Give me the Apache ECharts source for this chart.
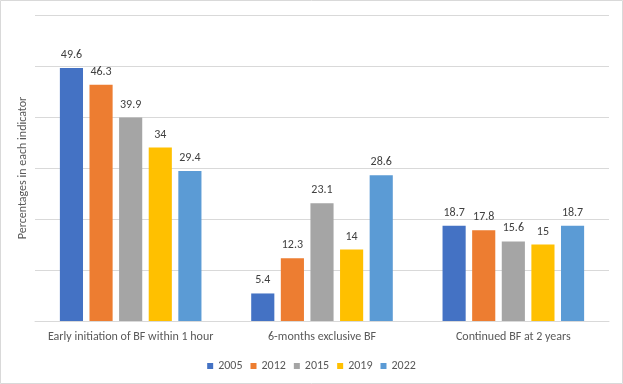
<!DOCTYPE html>
<html>
<head>
<meta charset="utf-8">
<script src="https://cdn.jsdelivr.net/npm/echarts@6/dist/echarts.min.js"></script>
<style>
html,body{margin:0;padding:0;background:#fff;}
#c{width:623px;height:384px;}
</style>
</head>
<body>
<div id="c"></div>
<script>
var categories = ['Early initiation of BF within 1 hour', '6-months exclusive BF', 'Continued BF at 2 years'];
var years = ['2005', '2012', '2015', '2019', '2022'];
var s2005 = [49.6, 5.4, 18.7];
var s2012 = [46.3, 12.3, 17.8];
var s2015 = [39.9, 23.1, 15.6];
var s2019 = [34, 14, 15];
var s2022 = [29.4, 28.6, 18.7];
var seriesData = [s2005, s2012, s2015, s2019, s2022];
var colors = ['#4472C4', '#ED7D31', '#A5A5A5', '#FFC000', '#5B9BD5'];
var yTitle = 'Percentages in each indicator';

var font = 'Calibri, Carlito, "Liberation Sans", Arial, sans-serif';
var chart = echarts.init(document.getElementById('c'), null, {renderer: 'canvas'});
var series = years.map(function (y, i) {
  return {
    name: y,
    type: 'bar',
    data: seriesData[i],
    barGap: '28%',
    barCategoryGap: '26%',
    itemStyle: {color: colors[i]},
    label: {
      show: true,
      position: 'top',
      distance: 7,
      color: '#404040',
      fontSize: 12,
      fontFamily: font
    }
  };
});
chart.setOption({
  animation: false,
  backgroundColor: '#fff',
  color: colors,
  grid: {left: 35, right: 14, top: 15, bottom: 63, containLabel: false},
  legend: {
    data: years,
    left: 'center',
    top: 355,
    icon: 'rect',
    itemWidth: 6,
    itemHeight: 6,
    itemGap: 8,
    textStyle: {color: '#595959', fontSize: 12, fontFamily: font}
  },
  xAxis: {
    type: 'category',
    data: categories,
    axisLine: {lineStyle: {color: '#D9D9D9'}},
    axisTick: {show: false},
    axisLabel: {color: '#595959', fontSize: 12, margin: 10, fontFamily: font, interval: 0}
  },
  yAxis: {
    type: 'value',
    min: 0,
    max: 60,
    interval: 10,
    name: yTitle,
    nameLocation: 'middle',
    nameGap: 6,
    nameTextStyle: {color: '#595959', fontSize: 12, fontFamily: font},
    axisLabel: {show: false},
    axisLine: {show: false},
    axisTick: {show: false},
    splitLine: {lineStyle: {color: '#D9D9D9'}}
  },
  graphic: [{
    type: 'rect',
    shape: {x: 0.5, y: 0.5, width: 622, height: 383},
    style: {fill: 'none', stroke: '#D9D9D9', lineWidth: 1},
    silent: true
  }],
  series: series
});
</script>
</body>
</html>
